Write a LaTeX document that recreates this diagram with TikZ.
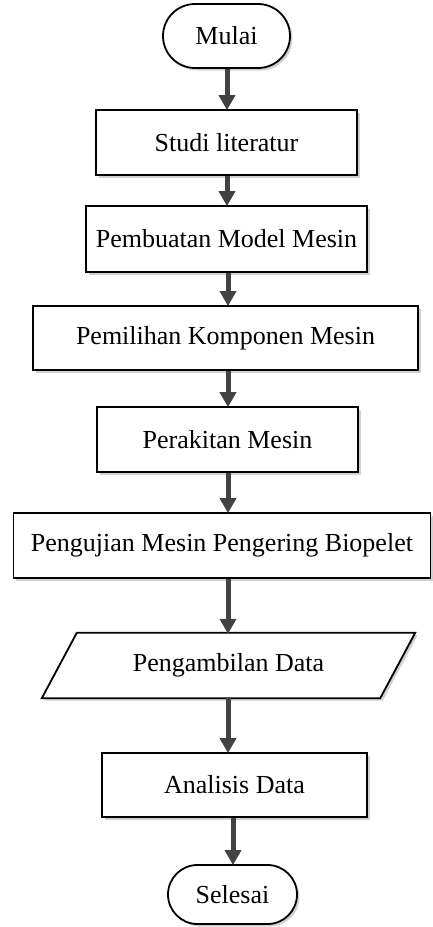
\documentclass[tikz,border=0pt]{standalone}
\usepackage{fontspec}
\setmainfont{Liberation Serif}
\usetikzlibrary{shapes.misc,arrows.meta,shadows}
\definecolor{arrowgray}{HTML}{424242}
\tikzset{
  shad/.style={drop shadow={shadow xshift=2.5pt,shadow yshift=-2.5pt,fill=black!30,opacity=0.6}},
  procbox/.style={draw=black,line width=1.8pt,fill=white,shad,rectangle,inner sep=0pt,
    font=\fontsize{26}{30}\selectfont},
  termbox/.style={draw=black,line width=1.8pt,fill=white,shad,rounded rectangle,inner sep=0pt,
    font=\fontsize{26}{30}\selectfont},
  textbox/.style={rectangle,inner sep=0pt,font=\fontsize{26}{30}\selectfont},
  arr/.style={draw=arrowgray,line width=5pt,-{Triangle[width=16pt,length=15pt]},shorten >=-1pt}
}
\begin{document}
\begin{tikzpicture}[x=1pt,y=-1pt]
\useasboundingbox (0,0) rectangle (433,927);
\node[termbox,minimum width=127pt,minimum height=64pt] (mulai) at (226.5,36) {Mulai};
\node[procbox,minimum width=261pt,minimum height=65pt] (studi) at (226.5,142.5) {Studi literatur};
\node[procbox,minimum width=281pt,minimum height=66pt] (model) at (226.5,239) {Pembuatan Model Mesin};
\node[procbox,minimum width=385pt,minimum height=64pt] (pilih) at (225.5,338) {Pemilihan Komponen Mesin};
\node[procbox,minimum width=261pt,minimum height=65pt] (rakit) at (227.5,439.5) {Perakitan Mesin};
\node[procbox,minimum width=417pt,minimum height=65pt] (uji) at (222,545.5) {Pengujian Mesin Pengering Biopelet};
\node[textbox,minimum width=303pt,minimum height=65pt] (ambil) at (228.5,665.5) {};
\path[draw=black,line width=1.8pt,fill=white,shad]
  (ambil.north west) -- ([xshift=35pt]ambil.north east) -- (ambil.south east)
  -- ([xshift=-35pt]ambil.south west) -- cycle;
\node[textbox] (ambiltext) at (ambil.center) {Pengambilan Data};
\node[procbox,minimum width=265pt,minimum height=64pt] (analisis) at (234.5,785) {Analisis Data};
\node[termbox,minimum width=129pt,minimum height=59pt] (selesai) at (232.5,894.5) {Selesai};
\coordinate (xa) at (227,0);
\coordinate (xb) at (228,0);
\coordinate (xc) at (233,0);
\draw[arr] (mulai.south -| xa) -- (studi.north -| xa);
\draw[arr] (studi.south -| xa) -- (model.north -| xa);
\draw[arr] (model.south -| xb) -- (pilih.north -| xb);
\draw[arr] (pilih.south -| xb) -- (rakit.north -| xb);
\draw[arr] (rakit.south -| xb) -- (uji.north -| xb);
\draw[arr] (uji.south -| xb) -- (ambil.north -| xb);
\draw[arr] (ambil.south -| xb) -- (analisis.north -| xb);
\draw[arr] (analisis.south -| xc) -- (selesai.north -| xc);
\end{tikzpicture}
\end{document}
